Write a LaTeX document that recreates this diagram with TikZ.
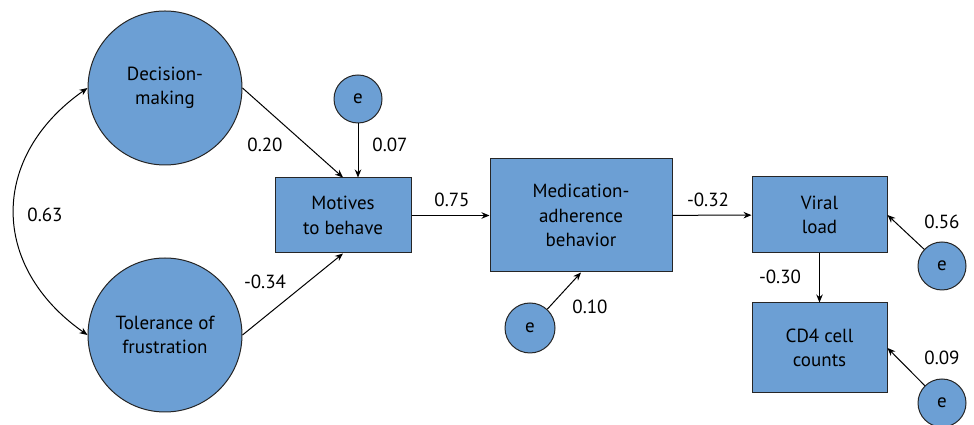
\documentclass[tikz,border=0pt]{standalone}
\usepackage{fontspec}
\setmainfont{PT Sans}
\usetikzlibrary{arrows.meta}
\definecolor{pathblue}{RGB}{108,159,212}
\begin{document}
\begin{tikzpicture}[x=1pt,y=1pt]

  \tikzset{
    latent/.style={
      circle,
      draw=black!85,
      fill=pathblue,
      line width=1pt,
      inner sep=0pt,
      minimum size=154pt,
      align=center,
      font=\fontsize{19}{24.5}\selectfont
    },
    observed/.style={
      rectangle,
      draw=black!85,
      fill=pathblue,
      line width=1pt,
      inner sep=0pt,
      align=center,
      font=\fontsize{19}{24.5}\selectfont
    },
    errnode/.style={
      circle,
      draw=black!85,
      fill=pathblue,
      line width=1pt,
      inner sep=0pt,
      minimum size=48pt,
      font=\fontsize{19}{19}\selectfont
    },
    link/.style={-{Stealth[length=8pt,width=6.5pt]}, line width=1pt},
    coef/.style={font=\fontsize{19}{19}\selectfont}
  }

  \useasboundingbox (0,0) rectangle (974,425);

  \node[latent] (DM) at (165,337) {Decision-\\making};
  \node[latent] (TF) at (165,90) {Tolerance of\\frustration};
  \node[observed, minimum width=136pt, minimum height=75pt] (MB) at (343,209.5) {Motives\\to behave};
  \node[observed, minimum width=182pt, minimum height=113pt] (MED) at (581,209.5) {Medication-\\adherence\\behavior};
  \node[observed, minimum width=135pt, minimum height=76pt] (VL) at (819.5,210) {Viral\\load};
  \node[observed, minimum width=135pt, minimum height=90pt] (CD) at (819.5,77) {CD4 cell\\counts};

  \node[errnode] (e1) at (358,326) {e};
  \node[errnode, minimum size=50pt] (e2) at (530,97) {e};
  \node[errnode] (e3) at (942,159) {e};
  \node[errnode] (e4) at (942,22) {e};

  \draw[{Stealth[length=8pt,width=6.5pt]}-{Stealth[length=8pt,width=6.5pt]}, line width=1pt]
    (DM.west) to[out=215, in=145, looseness=1.24] (TF.west);
  \draw[link] (DM.east) -- (MB.north);
  \draw[link] (TF.east) -- (MB.south);
  \draw[link] (e1) -- (e1 |- MB.north);
  \draw[link] (MB) -- (MED);
  \draw[link] (e2) -- (MED.south);
  \draw[link] (MED) -- (VL);
  \draw[link] (VL) -- (CD);
  \draw[link] (e3) -- (VL.east);
  \draw[link] (e4) -- (CD.east);

  \node[coef] (c1) at (45,210) {0.63};
  \node[coef] (c2) at (265,280) {0.20};
  \node[coef] (c3) at (390,280) {0.07};
  \node[coef] (c4) at (265,143) {-0.34};
  \node[coef] (c5) at (452,225) {0.75};
  \node[coef] (c6) at (590,118) {0.10};
  \node[coef] (c7) at (708,225) {-0.32};
  \node[coef] (c8) at (780,148) {-0.30};
  \node[coef] (c9) at (942,203) {0.56};
  \node[coef] (c10) at (942,67) {0.09};

\end{tikzpicture}
\end{document}
